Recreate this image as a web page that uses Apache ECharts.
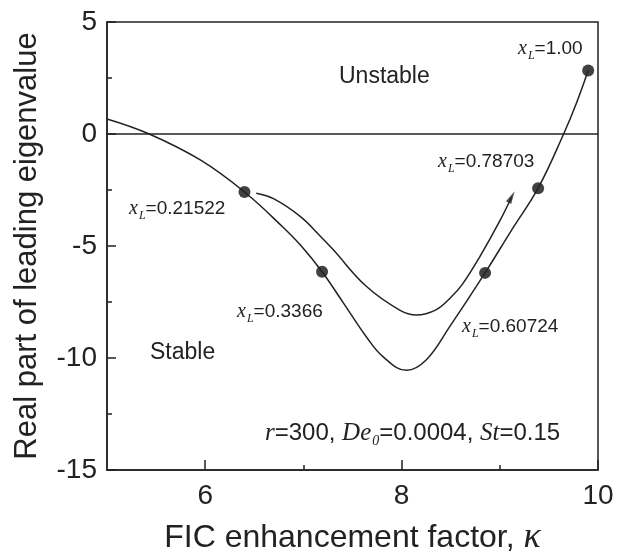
<!DOCTYPE html>
<html>
<head>
<meta charset="UTF-8">
<style>
	html, body { margin: 0; padding: 0; background: #fff; }
	#main { width: 624px; height: 557px; }
</style>
</head>
<body>
	<div id="main"></div>
	<script src="https://cdn.jsdelivr.net/npm/echarts@6/dist/echarts.min.js"></script>
<script>
	// lower curve (passes through the marked points)
	var kLower = [5.00, 5.43, 5.95, 6.40, 6.79, 6.97, 7.19, 7.41, 7.64, 7.81, 8.05, 8.25, 8.49, 8.85, 9.12, 9.39, 9.65, 9.78, 9.90];
	var reLower = [0.67, 0.00, -1.16, -2.59, -4.15, -4.96, -6.15, -7.56, -9.05, -9.94, -10.55, -10.09, -8.60, -6.20, -4.29, -2.42, 0.00, 1.37, 2.83];
	// upper curve ending with the arrow
	var kUpper = [6.52, 6.70, 6.97, 7.17, 7.30, 7.64, 7.98, 8.15, 8.35, 8.50, 8.62, 8.80, 9.00, 9.12];
	var reUpper = [-2.65, -2.90, -3.69, -4.55, -5.15, -6.80, -7.86, -8.08, -7.85, -7.30, -6.70, -5.45, -3.88, -2.81];
	// marked points
	var kDots = [6.40, 7.19, 8.85, 9.39, 9.90];
	var reDots = [-2.59, -6.15, -6.20, -2.42, 2.83];
	var xlValues = ['0.21522', '0.3366', '0.60724', '0.78703', '1.00'];
	var arrowHead = [9.12, -2.81];
	var xMajor = [6, 8, 10];
	var xMinor = [7, 9];

	function zip(a, b) {
		var out = [];
		for (var i = 0; i < a.length; i++) out.push([a[i], b[i]]);
		return out;
	}

	var ink = '#222';
	var sans = 'Liberation Sans, Arial, sans-serif';
	var serif = 'Liberation Serif, Times New Roman, serif';

	var rich = {
		i: { fontFamily: serif, fontStyle: 'italic', fontSize: 20, fill: ink },
		s: { fontFamily: serif, fontStyle: 'italic', fontSize: 12, fill: ink, verticalAlign: 'bottom', padding: [14, 0, 0, 1] },
		n: { fontFamily: sans, fontSize: 19, fill: ink },
		m: { fontFamily: sans, fontSize: 23, fill: ink },
		r: { fontFamily: sans, fontSize: 24, fill: ink },
		I: { fontFamily: serif, fontStyle: 'italic', fontSize: 25, fill: ink },
		S: { fontFamily: serif, fontStyle: 'italic', fontSize: 14, fill: ink, verticalAlign: 'bottom', padding: [16, 0, 0, 1] }
	};

	function txt(str, x, y) {
		return {
			type: 'text', x: x, y: y, silent: true,
			style: { text: str, rich: rich, verticalAlign: 'middle', fill: ink }
		};
	}

	var xlPos = [[129, 209], [237, 312], [462, 327], [438, 162], [518, 49]];
	var graphics = [];
	for (var i = 0; i < xlValues.length; i++) {
		graphics.push(txt('{i|x}{s|L}{n|=' + xlValues[i] + '}', xlPos[i][0], xlPos[i][1]));
	}
	graphics.push(txt('{m|Unstable}', 339, 77));
	graphics.push(txt('{m|Stable}', 150, 353));
	graphics.push(txt('{I|r}{r|=300, }{I|De}{S|0}{r|=0.0004, }{I|St}{r|=0.15}', 265, 433));

	var myChart = echarts.init(document.getElementById('main'));
	myChart.setOption({
		animation: false,
		grid: {
			left: 107, right: 26, top: 22, bottom: 87,
			outerBoundsMode: 'none', containLabel: false,
			show: true, borderColor: ink, borderWidth: 1.5
		},
		xAxis: [{
			type: 'value', min: 5, max: 10, interval: 1,
			name: 'FIC enhancement factor, {k|κ}',
			nameLocation: 'middle', nameGap: 50,
			nameTextStyle: {
				fontFamily: sans, fontSize: 32, color: ink,
				rich: { k: { fontFamily: serif, fontStyle: 'italic', fontSize: 36, color: ink } }
			},
			axisLine: { onZero: false, lineStyle: { color: ink, width: 1.5 } },
			axisTick: { inside: true, length: 10, customValues: xMajor, lineStyle: { color: ink, width: 1.5 } },
			axisLabel: { customValues: xMajor, fontFamily: sans, fontSize: 28, color: ink, margin: 12 },
			splitLine: { show: false }
		}, {
			// short ticks at 7 and 9
			type: 'value', min: 5, max: 10, interval: 1, position: 'bottom', offset: 0,
			axisLine: { show: false, onZero: false },
			axisTick: { show: true, inside: true, length: 5, customValues: xMinor, lineStyle: { color: ink, width: 1.5 } },
			axisLabel: { show: true, customValues: xMinor, color: 'rgba(0,0,0,0)', fontSize: 10 },
			splitLine: { show: false }
		}],
		yAxis: {
			type: 'value', min: -15, max: 5, interval: 5,
			name: 'Real part of leading eigenvalue',
			nameLocation: 'middle', nameGap: 64,
			nameTextStyle: { fontFamily: sans, fontSize: 31, color: ink },
			axisLine: { lineStyle: { color: ink, width: 1.5 } },
			axisTick: { inside: true, length: 9, lineStyle: { color: ink, width: 1.5 } },
			minorTick: { show: true, splitNumber: 2, length: 5, lineStyle: { color: ink, width: 1.5 } },
			axisLabel: { fontFamily: sans, fontSize: 28, color: ink, margin: 10 },
			splitLine: { show: false }
		},
		graphic: graphics,
		series: [{
			type: 'line', data: zip(kLower, reLower), smooth: 0.4,
			showSymbol: false, lineStyle: { color: ink, width: 1.5 },
			markLine: {
				silent: true, symbol: 'none', label: { show: false },
				lineStyle: { color: ink, width: 1.5, type: 'solid' },
				data: [{ yAxis: 0 }]
			}
		}, {
			type: 'line', data: zip(kUpper, reUpper), smooth: 0.4,
			showSymbol: false, lineStyle: { color: ink, width: 1.5 }
		}, {
			type: 'scatter', data: [arrowHead], symbol: 'triangle',
			symbolSize: [6, 13], symbolRotate: -28, itemStyle: { color: ink }
		}, {
			type: 'scatter', data: zip(kDots, reDots), symbol: 'circle',
			symbolSize: 12, itemStyle: { color: '#111' }
		}]
	});
</script>
</body>
</html>
